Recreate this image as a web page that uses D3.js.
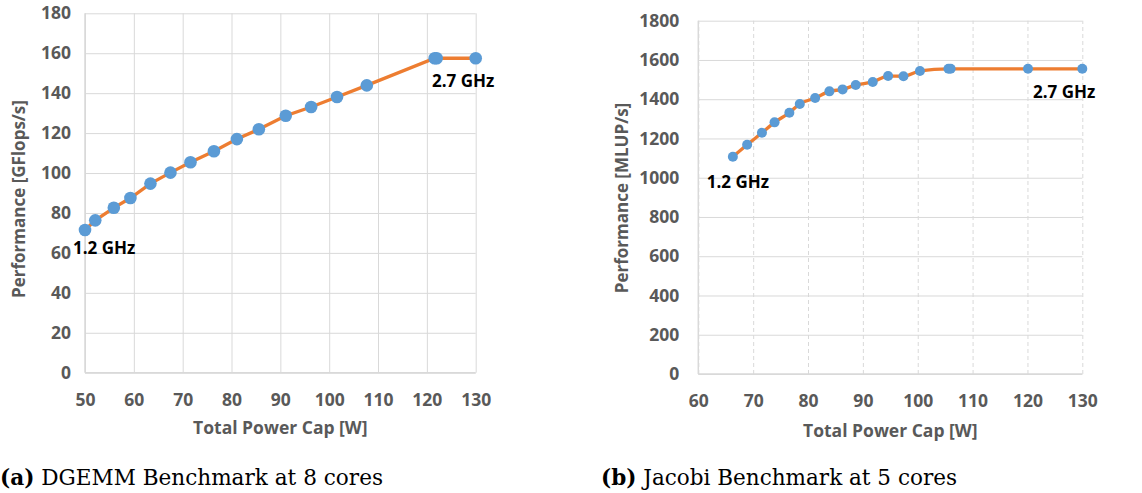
<!DOCTYPE html>
<html>
<head>
<meta charset="utf-8">
<script src="https://cdn.jsdelivr.net/npm/d3@7"></script>
<style>
  body { margin: 0; background: #fff; }
  text { font-family: "Open Sans", sans-serif; }
</style>
</head>
<body>
<div id="b1"></div>
<script>
const width = 1142;
const height = 493;

// (a) DGEMM, 8 cores
const dgemmPower = [50, 52.1, 55.9, 59.3, 63.4, 67.5, 71.6, 76.4, 81.1, 85.6, 91.1, 96.3, 101.6, 107.7, 121.6, 122.0, 130];
const dgemmPerf  = [71.5, 76.3, 82.6, 87.5, 94.7, 100.2, 105.4, 110.9, 117, 121.9, 128.7, 133.1, 138.1, 143.9, 157.5, 157.5, 157.5];
const dgemmXTicks = [50, 60, 70, 80, 90, 100, 110, 120, 130];
const dgemmYTicks = [0, 20, 40, 60, 80, 100, 120, 140, 160, 180];

// (b) Jacobi, 5 cores
const jacobiPower = [66.3, 68.9, 71.6, 73.9, 76.6, 78.5, 81.3, 83.9, 86.3, 88.7, 91.8, 94.6, 97.4, 100.4, 105.6, 106.0, 120.1, 130];
const jacobiPerf  = [1107, 1168, 1229, 1282, 1331, 1376, 1406, 1440, 1450, 1472, 1488, 1518, 1517, 1544, 1555, 1555, 1555, 1555];
const jacobiXTicks = [60, 70, 80, 90, 100, 110, 120, 130];
const jacobiYTicks = [0, 200, 400, 600, 800, 1000, 1200, 1400, 1600, 1800];

const orange = "#ed7d31";
const blue = "#5b9bd5";
const grey = "#595959";
const gridColor = "#d9d9d9";

const svg = d3.select("#b1").append("svg")
    .attr("width", width)
    .attr("height", height)
    .attr("viewBox", [0, 0, width, height]);

// 1つのパネルを描く
function panel(opt) {
    const x = d3.scaleLinear().domain(opt.xDomain).range([opt.left, opt.right]);
    const y = d3.scaleLinear().domain(opt.yDomain).range([opt.bottom, opt.top]);
    const g = svg.append("g");

    // グリッド
    g.append("g")
        .attr("transform", `translate(0,${opt.bottom})`)
        .call(d3.axisBottom(x).tickValues(opt.xTicks).tickSize(opt.top - opt.bottom).tickFormat(""))
        .call(s => s.select(".domain").remove())
        .call(s => s.selectAll("line")
            .attr("stroke", gridColor)
            .attr("stroke-width", 1)
            .attr("stroke-dasharray", opt.dashX ? "4,3" : null));

    g.append("g")
        .attr("transform", `translate(${opt.left},0)`)
        .call(d3.axisLeft(y).tickValues(opt.yTicks).tickSize(opt.left - opt.right).tickFormat(""))
        .call(s => s.select(".domain").remove())
        .call(s => s.selectAll("line").attr("stroke", gridColor).attr("stroke-width", 1));

    // 軸線
    g.append("line")
        .attr("x1", opt.left).attr("x2", opt.left)
        .attr("y1", opt.top).attr("y2", opt.bottom)
        .attr("stroke", gridColor).attr("stroke-width", 1.5);
    g.append("line")
        .attr("x1", opt.left).attr("x2", opt.right)
        .attr("y1", opt.bottom).attr("y2", opt.bottom)
        .attr("stroke", gridColor).attr("stroke-width", 1.5);

    // 目盛りラベル
    const tickStyle = s => s.selectAll("text")
        .attr("fill", grey)
        .style("font-family", "'Open Sans', sans-serif")
        .style("font-weight", 700)
        .style("font-size", "17.5px");

    g.append("g")
        .attr("transform", `translate(0,${opt.bottom})`)
        .call(d3.axisBottom(x).tickValues(opt.xTicks).tickSize(0).tickPadding(opt.xPad).tickFormat(d3.format("d")))
        .call(s => s.select(".domain").remove())
        .call(tickStyle);

    g.append("g")
        .attr("transform", `translate(${opt.left},0)`)
        .call(d3.axisLeft(y).tickValues(opt.yTicks).tickSize(0).tickPadding(opt.yPad).tickFormat(d3.format("d")))
        .call(s => s.select(".domain").remove())
        .call(tickStyle);

    // 軸タイトル
    g.append("text")
        .attr("x", (opt.left + opt.right) / 2)
        .attr("y", opt.xTitleY)
        .attr("text-anchor", "middle")
        .attr("dominant-baseline", "central")
        .attr("fill", grey)
        .style("font-weight", 700)
        .style("font-size", "17.5px")
        .text("Total Power Cap [W]");

    g.append("text")
        .attr("transform", `translate(${opt.yTitleX},${opt.yTitleY}) rotate(-90)`)
        .attr("text-anchor", "middle")
        .attr("dominant-baseline", "central")
        .attr("fill", grey)
        .style("font-weight", 700)
        .style("font-size", "17px")
        .text(opt.yTitle);

    // 線と点
    const pts = opt.xs.map((v, i) => [v, opt.ys[i]]);
    g.append("path")
        .datum(pts)
        .attr("fill", "none")
        .attr("stroke", orange)
        .attr("stroke-width", 3.3)
        .attr("d", d3.line().x(d => x(d[0])).y(d => y(d[1])).curve(opt.curve));

    g.selectAll("circle")
        .data(pts)
        .join("circle")
            .attr("cx", d => x(d[0]))
            .attr("cy", d => y(d[1]))
            .attr("r", opt.r)
            .attr("fill", blue);

    // 周波数ラベル
    opt.notes.forEach(n => {
        g.append("text")
            .attr("x", n.x)
            .attr("y", n.y)
            .attr("dominant-baseline", "central")
            .attr("fill", "#000")
            .style("font-weight", 700)
            .style("font-size", "17px")
            .text(n.text);
    });

    // キャプション
    const cap = svg.append("text")
        .attr("x", opt.capX)
        .attr("y", 477)
        .attr("dominant-baseline", "central")
        .attr("textLength", opt.capW)
        .attr("lengthAdjust", "spacingAndGlyphs")
        .style("font-family", "'DejaVu Serif', 'Liberation Serif', serif")
        .style("font-size", "22px")
        .attr("fill", "#000");
    cap.append("tspan").style("font-weight", 700).text(opt.capTag);
    cap.append("tspan").text(" " + opt.capText);
}

panel({
    xDomain: [50, 130], yDomain: [0, 180],
    left: 85, right: 475.7, top: 13.3, bottom: 372.7,
    xTicks: dgemmXTicks, yTicks: dgemmYTicks,
    xs: dgemmPower, ys: dgemmPerf,
    dashX: false, curve: d3.curveLinear, r: 6.3,
    xPad: 21, yPad: 14,
    xTitleY: 426.5, yTitleX: 18, yTitleY: 199,
    yTitle: "Performance [GFlops/s]",
    notes: [{x: 73, y: 247, text: "1.2 GHz"}, {x: 432, y: 80, text: "2.7 GHz"}],
    capX: 0, capW: 383, capTag: "(a)", capText: "DGEMM Benchmark at 8 cores"
});

panel({
    xDomain: [60, 130], yDomain: [0, 1800],
    left: 698.3, right: 1082.3, top: 20.7, bottom: 374,
    xTicks: jacobiXTicks, yTicks: jacobiYTicks,
    xs: jacobiPower, ys: jacobiPerf,
    dashX: true, curve: d3.curveMonotoneX, r: 5,
    xPad: 21, yPad: 19,
    xTitleY: 430, yTitleX: 621.7, yTitleY: 198,
    yTitle: "Performance [MLUP/s]",
    notes: [{x: 706.7, y: 181, text: "1.2 GHz"}, {x: 1033, y: 91, text: "2.7 GHz"}],
    capX: 601, capW: 356, capTag: "(b)", capText: "Jacobi Benchmark at 5 cores"
});
</script>
</body>
</html>
